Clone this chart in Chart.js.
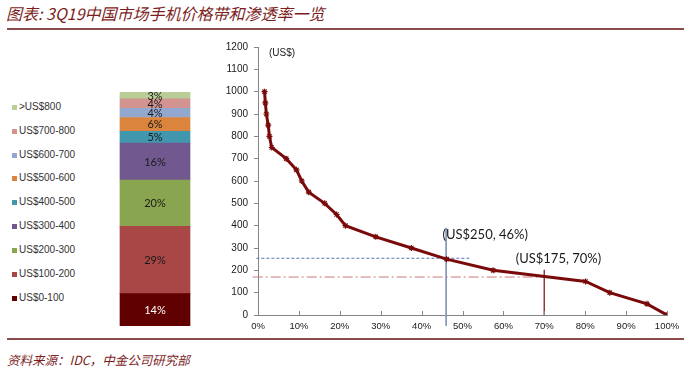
<!DOCTYPE html>
<html><head><meta charset="utf-8">
<script src="https://cdn.jsdelivr.net/npm/chart.js@4.4.0/dist/chart.umd.min.js"></script>
<style>
html,body{margin:0;padding:0;background:#fff;}
#wrap{position:relative;width:695px;height:373px;overflow:hidden;background:#fff;}
#title{position:absolute;left:6px;top:3px;font-family:"Noto Sans CJK SC",sans-serif;font-style:italic;font-size:16px;line-height:20px;color:#7c1e1e;white-space:nowrap;}
#foot{position:absolute;left:7px;top:352px;font-family:"Noto Sans CJK SC",sans-serif;font-style:italic;font-size:12.5px;line-height:16px;color:#7c1e1e;white-space:nowrap;}
.rule{position:absolute;left:7px;width:677px;height:2px;background:#8c4b4b;}
#legend{position:absolute;left:12px;top:94.8px;font-family:"Liberation Sans",Arial,sans-serif;font-size:10px;color:#333;}
#legend div{height:23.9px;line-height:23.9px;white-space:nowrap;}
#legend span{display:inline-block;width:5px;height:5px;margin-right:2px;vertical-align:0px;}
#c1{position:absolute;left:100px;top:80px;}
#c2{position:absolute;left:200px;top:30px;}
</style></head>
<body><div id="wrap">
<div id="title">图表: 3Q19中国市场手机价格带和渗透率一览</div>
<div class="rule" style="top:27.5px"></div>
<div id="legend"></div>
<canvas id="c1" width="110" height="260"></canvas>
<canvas id="c2" width="495" height="315"></canvas>
<div class="rule" style="top:338px"></div>
<div id="foot">资料来源：IDC，中金公司研究部</div>
</div>
<script>
// ---- data ----
const priceBands = ['US$0-100','US$100-200','US$200-300','US$300-400','US$400-500','US$500-600','US$600-700','US$700-800','>US$800'];
const bandShares = [14, 29, 20, 16, 5, 6, 4, 4, 3];
const bandColors = ['#600000','#a84745','#8aa54f','#71588f','#4197ae','#da843e','#93a8cf','#d29391','#b9cd97'];
const bandLabelColors = ['#ffffff','#1a1a1a','#1a1a1a','#1a1a1a','#1a1a1a','#1a1a1a','#1a1a1a','#1a1a1a','#1a1a1a'];

const penetration = [1.6, 1.8, 2.05, 2.5, 2.8, 3.35, 6.9, 9.4, 10.7, 12.4, 16.3, 19.2, 21.4, 28.8, 37.5, 46.1, 57.5, 80.1, 86.0, 95.1, 100];
const pricePoints = [1000, 950, 900, 850, 800, 750, 700, 650, 600, 550, 500, 450, 400, 350, 300, 250, 200, 150, 100, 50, 0];

const yTicks = [0,100,200,300,400,500,600,700,800,900,1000,1100,1200];
const xTicks = [0,10,20,30,40,50,60,70,80,90,100];

const refBlueH = [{x:-0.4, y:254}, {x:52, y:254}];
const refBlueV = [{x:46, y:390}, {x:46, y:-48}];
const refRedH = [{x:-1.3, y:170}, {x:70, y:170}];
const refRedV = [{x:70, y:202}, {x:70, y:0}];
const annotations = [
  {text:'(US$250, 46%)', x:45.1, y:358},
  {text:'(US$175, 70%)', x:63.0, y:251}
];
const unitLabel = '(US$)';

// ---- legend (HTML) ----
const lg = document.getElementById('legend');
for (let i = priceBands.length - 1; i >= 0; i--) {
  const d = document.createElement('div');
  const s = document.createElement('span');
  s.style.background = bandColors[i];
  d.appendChild(s);
  d.appendChild(document.createTextNode(priceBands[i]));
  lg.appendChild(d);
}

Chart.defaults.font.family = '"Liberation Sans", Arial, sans-serif';
Chart.defaults.animation = false;

// ---- stacked bar ----
const barLabelPlugin = {
  id: 'barLabels',
  afterDatasetsDraw(chart) {
    const ctx = chart.ctx;
    ctx.save();
    ctx.font = '11px Lato, "Open Sans", sans-serif';
    ctx.textAlign = 'center';
    ctx.textBaseline = 'middle';
    chart.data.datasets.forEach((ds, i) => {
      const el = chart.getDatasetMeta(i).data[0];
      ctx.fillStyle = bandLabelColors[i];
      ctx.fillText(ds.data[0] + '%', el.x, (el.y + el.base) / 2 + 0.5);
    });
    ctx.restore();
  }
};
new Chart(document.getElementById('c1'), {
  type: 'bar',
  data: {
    labels: [''],
    datasets: priceBands.map((b, i) => ({
      label: b, data: [bandShares[i]], backgroundColor: bandColors[i],
      borderWidth: 0, barThickness: 70, stack: 's'
    }))
  },
  options: {
    responsive: false,
    layout: {padding: {top: 12, bottom: 14, left: 0, right: 0}},
    plugins: {legend: {display: false}, tooltip: {enabled: false}},
    scales: {
      x: {display: false, stacked: true},
      y: {display: false, stacked: true, min: 0, max: 101}
    }
  },
  plugins: [barLabelPlugin]
});

// ---- line chart ----
const extrasPlugin = {
  id: 'extras',
  afterDraw(chart) {
    const ctx = chart.ctx, xs = chart.scales.x, ys = chart.scales.y;
    ctx.save();
    // inside x ticks
    ctx.strokeStyle = '#868686'; ctx.lineWidth = 1;
    xTicks.forEach(v => {
      if (v === 0) return;
      const px = Math.round(xs.getPixelForValue(v)) + 0.5;
      ctx.beginPath(); ctx.moveTo(px, ys.bottom); ctx.lineTo(px, ys.bottom - 4); ctx.stroke();
    });
    // annotations
    ctx.fillStyle = '#1a1a1a';
    ctx.font = '13px Lato, "Open Sans", sans-serif';
    ctx.textBaseline = 'middle'; ctx.textAlign = 'left';
    annotations.forEach(a => ctx.fillText(a.text, xs.getPixelForValue(a.x), ys.getPixelForValue(a.y)));
    ctx.font = '10px "Liberation Sans", Arial, sans-serif';
    ctx.fillText(unitLabel, xs.left + 11, ys.top + 6);
    ctx.restore();
  }
};

new Chart(document.getElementById('c2'), {
  type: 'line',
  data: {
    datasets: [
      {
        data: penetration.map((p, i) => ({x: p, y: pricePoints[i]})),
        borderColor: '#7a0a0a', backgroundColor: '#7a0a0a', borderWidth: 3,
        pointStyle: 'star', pointRadius: 3, pointBorderWidth: 1.2, pointBorderColor: '#7a0a0a',
        tension: 0
      },
      {data: refBlueH, borderColor: '#5577bb', borderWidth: 1, borderDash: [3, 2], pointRadius: 0, clip: false},
      {data: refBlueV, borderColor: '#8196bb', borderWidth: 1, pointRadius: 0, clip: false},
      {data: refRedH, borderColor: '#c87878', borderWidth: 1, borderDash: [10, 3, 2, 3], pointRadius: 0, clip: false},
      {data: refRedV, borderColor: '#8b3a3a', borderWidth: 1, pointRadius: 0, clip: false}
    ]
  },
  options: {
    responsive: false,
    layout: {padding: {top: 17, right: 28, left: 0, bottom: 0}},
    plugins: {legend: {display: false}, tooltip: {enabled: false}},
    scales: {
      x: {
        type: 'linear', min: 0, max: 100,
        afterFit(s) { s.height = 30; },
        afterBuildTicks(s) { s.ticks = xTicks.map(v => ({value: v})); },
        grid: {drawOnChartArea: false, drawTicks: false},
        border: {color: '#868686'},
        ticks: {padding: 6, color: '#1a1a1a', font: {size: 9.5}, maxRotation: 0, callback: v => v + '%'}
      },
      y: {
        min: 0, max: 1200,
        afterFit(s) { s.width = 58; },
        afterBuildTicks(s) { s.ticks = yTicks.map(v => ({value: v})); },
        grid: {drawOnChartArea: false, drawTicks: true, tickLength: 4, color: '#868686'},
        border: {color: '#868686'},
        ticks: {padding: 6, color: '#1a1a1a', font: {size: 10}, callback: v => String(v)}
      }
    }
  },
  plugins: [extrasPlugin]
});
</script>
</body></html>
